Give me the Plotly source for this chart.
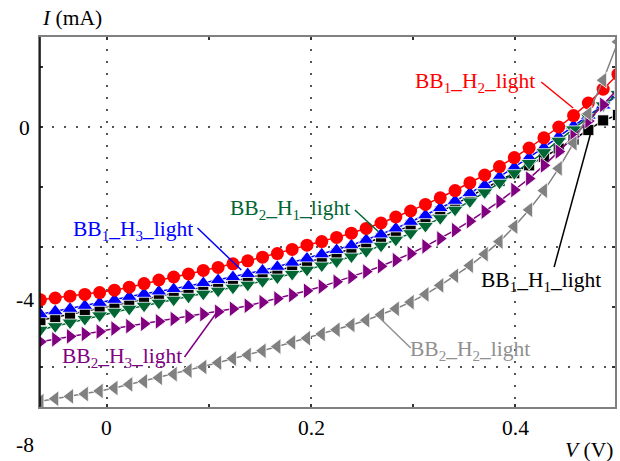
import plotly.graph_objects as go

# ---- data ----
V = [-0.065, -0.0505, -0.036, -0.0215, -0.007, 0.0075, 0.022, 0.0365, 0.051, 0.0655,
     0.08, 0.0945, 0.109, 0.1235, 0.138, 0.1525, 0.167, 0.1815, 0.196, 0.2105,
     0.225, 0.2395, 0.254, 0.2685, 0.283, 0.2975, 0.312, 0.3265, 0.341, 0.3555,
     0.37, 0.3845, 0.399, 0.4135, 0.428, 0.4425, 0.457, 0.4715, 0.486, 0.5005]

I_BB1_H2 = [-2.88, -2.85, -2.82, -2.79, -2.76, -2.72, -2.67, -2.61, -2.55, -2.50,
            -2.45, -2.39, -2.34, -2.28, -2.23, -2.17, -2.11, -2.04, -1.97, -1.91,
            -1.84, -1.77, -1.69, -1.60, -1.50, -1.40, -1.29, -1.18, -1.06, -0.93,
            -0.80, -0.66, -0.51, -0.35, -0.18, 0.00, 0.19, 0.40, 0.63, 0.88]

I_BB1_H3 = [-3.12, -3.07, -3.03, -2.98, -2.93, -2.88, -2.83, -2.78, -2.74, -2.70,
            -2.65, -2.60, -2.55, -2.50, -2.45, -2.39, -2.33, -2.26, -2.19, -2.12,
            -2.05, -1.97, -1.88, -1.79, -1.69, -1.58, -1.47, -1.35, -1.23, -1.10,
            -0.97, -0.83, -0.67, -0.51, -0.34, -0.16, 0.02, 0.19, 0.36, 0.53]

I_BB1_H1 = [-3.22, -3.17, -3.12, -3.07, -3.02, -2.97, -2.92, -2.87, -2.82, -2.78,
            -2.73, -2.68, -2.63, -2.58, -2.52, -2.46, -2.40, -2.33, -2.26, -2.19,
            -2.11, -2.03, -1.94, -1.85, -1.75, -1.64, -1.53, -1.41, -1.29, -1.16,
            -1.03, -0.90, -0.77, -0.64, -0.50, -0.36, -0.21, -0.05, 0.11, 0.20]

I_BB2_H1 = [-3.38, -3.32, -3.26, -3.20, -3.14, -3.08, -3.03, -2.98, -2.93, -2.88,
            -2.83, -2.78, -2.73, -2.68, -2.63, -2.57, -2.51, -2.45, -2.38, -2.31,
            -2.24, -2.16, -2.07, -1.98, -1.88, -1.77, -1.65, -1.52, -1.38, -1.24,
            -1.09, -0.93, -0.77, -0.60, -0.42, -0.23, -0.04, 0.16, 0.36, 0.55]

I_BB2_H3 = [-3.58, -3.54, -3.49, -3.45, -3.41, -3.36, -3.32, -3.28, -3.24, -3.20,
            -3.16, -3.12, -3.08, -3.03, -2.98, -2.92, -2.86, -2.80, -2.73, -2.66,
            -2.58, -2.50, -2.41, -2.32, -2.22, -2.11, -1.99, -1.86, -1.72, -1.57,
            -1.41, -1.24, -1.05, -0.86, -0.64, -0.41, -0.16, 0.10, 0.37, 0.64]

I_BB2_H2 = [-4.57, -4.53, -4.49, -4.45, -4.40, -4.35, -4.29, -4.24, -4.18, -4.12,
            -4.06, -4.00, -3.93, -3.86, -3.80, -3.73, -3.66, -3.59, -3.52, -3.45,
            -3.38, -3.30, -3.22, -3.13, -3.03, -2.92, -2.79, -2.64, -2.48, -2.31,
            -2.12, -1.91, -1.66, -1.38, -1.06, -0.69, -0.27, 0.22, 0.78, 1.42]

x_tick_vals = [0, 0.2, 0.4]
x_tick_text = ["0", "0.2", "0.4"]
y_tick_vals = [0, -2, -4]
y_tick_text = ["0", "", ""]
y_extra_labels = ["-4", "-8"]
y_extra_paper = [0.289, -0.1027]

FONT = "Liberation Serif, Times New Roman, serif"
FS = 21.5

series = [
    ("BB1_H1", I_BB1_H1, "#000000", "square", 11),
    ("BB1_H3", I_BB1_H3, "#0000ff", "triangle-up", 14),
    ("BB2_H1", I_BB2_H1, "#006633", "triangle-down", 14),
    ("BB1_H2", I_BB1_H2, "#ff0000", "circle", 13),
    ("BB2_H3", I_BB2_H3, "#800080", "triangle-right", 14),
    ("BB2_H2", I_BB2_H2, "#808080", "triangle-left", 14),
]

fig = go.Figure()
for name, ys, col, sym, sz in series:
    fig.add_trace(go.Scatter(
        x=V, y=ys, mode="lines+markers", name=name,
        line=dict(color=col, width=1.5),
        marker=dict(symbol=sym, size=sz, color=col,
                    line=dict(color="white", width=0.8 if sym != "circle" else 0)),
        showlegend=False, hoverinfo="skip"))

# labels with pointer lines: (text, colour, text x, text y, line from (x0,y0) to (x1,y1))
labels = [
    ("BB<sub>1</sub>_H<sub>2</sub>_light", "#ff0000", 0.361, 0.75, 0.4254, 0.75, 0.4566, 0.317),
    ("BB<sub>1</sub>_H<sub>3</sub>_light", "#0000ff", 0.0254, -1.717, 0.0888, -1.683, 0.1317, -2.383),
    ("BB<sub>2</sub>_H<sub>1</sub>_light", "#006633", 0.1795, -1.383, 0.2429, -1.383, 0.2663, -1.75),
    ("BB<sub>1</sub>_H<sub>1</sub>_light", "#000000", 0.4254, -2.583, 0.438, -2.333, 0.4751, -0.02),
    ("BB<sub>2</sub>_H<sub>3</sub>_light", "#800080", 0.0146, -3.85, 0.0761, -3.833, 0.1073, -3.1),
    ("BB<sub>2</sub>_H<sub>2</sub>_light", "#909090", 0.3561, -3.717, 0.2976, -3.683, 0.2663, -3.167),
]
for txt, col, tx, ty, x0, y0, x1, y1 in labels:
    fig.add_annotation(x=tx, y=ty, xref="x", yref="y", text=txt, showarrow=False,
                       font=dict(family=FONT, size=FS, color=col),
                       xanchor="center", yanchor="middle")
    fig.add_shape(type="line", xref="x", yref="y", x0=x0, y0=y0, x1=x1, y1=y1,
                  line=dict(color=col, width=1.5))

for lab, pos in zip(y_extra_labels, y_extra_paper):
    fig.add_annotation(x=0, y=pos, xref="paper", yref="paper", text=lab, showarrow=False,
                       xanchor="right", yanchor="middle", xshift=-4,
                       font=dict(family=FONT, size=FS, color="black"))

# x tick labels
for tv, tt in zip(x_tick_vals, x_tick_text):
    fig.add_annotation(x=tv, y=0, xref="x", yref="paper", text=tt, showarrow=False,
                       xanchor="center", yanchor="middle", yshift=-21,
                       font=dict(family=FONT, size=FS, color="black"))

# axis titles
fig.add_annotation(x=0, y=1, xref="paper", yref="paper", text="<i>I</i> (mA)",
                   showarrow=False, xanchor="left", yanchor="bottom", yshift=5,
                   font=dict(family=FONT, size=FS, color="black"))
fig.add_annotation(x=1, y=0, xref="paper", yref="paper", text="<i>V</i> (V)",
                   showarrow=False, xanchor="right", yanchor="top", yshift=-29,
                   font=dict(family=FONT, size=FS, color="black"))

# left axis line black
fig.add_shape(type="line", xref="paper", yref="paper", x0=0, x1=0, y0=0, y1=1,
              line=dict(color="black", width=1.5))

grid_common = dict(showgrid=True, gridcolor="#555555", gridwidth=1.5, griddash="2px,10px",
                   zeroline=False, showline=True, linecolor="#808080", linewidth=2,
                   mirror="ticks", ticks="inside", ticklen=3, tickwidth=2, tickcolor="#333333",
                   tickfont=dict(family=FONT, size=FS, color="black"))

fig.update_xaxes(range=[-0.0654, 0.4976], tickmode="array", tickvals=x_tick_vals,
                 showticklabels=False,
                 minor=dict(dtick=0.1, tick0=0, ticks="inside", ticklen=3, tickwidth=2,
                            tickcolor="#333333", showgrid=False),
                 **grid_common)
fig.update_yaxes(range=[-4.667, 1.5], tickmode="array", tickvals=y_tick_vals,
                 ticktext=y_tick_text, ticklabelstandoff=4,
                 minor=dict(dtick=1, tick0=0, ticks="inside", ticklen=3, tickwidth=2,
                            tickcolor="#333333", showgrid=False),
                 **grid_common)

fig.update_layout(width=620, height=461, margin=dict(l=40, r=3, t=37, b=54),
                  plot_bgcolor="white", paper_bgcolor="white",
                  font=dict(family=FONT, size=FS, color="black"))

fig.write_html("out.html")
